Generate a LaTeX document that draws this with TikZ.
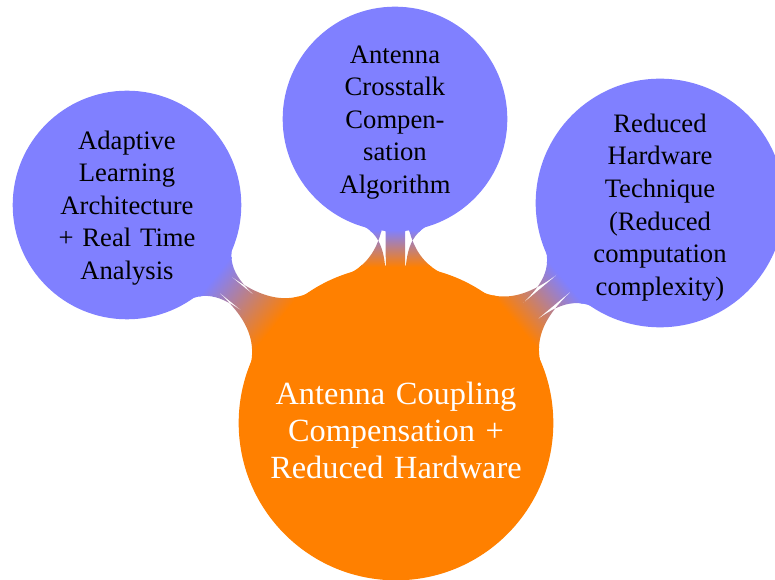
\documentclass[tikz,border=0pt]{standalone}
\usepackage{fontspec}
\setmainfont{Liberation Serif}
\usetikzlibrary{mindmap}
\newcommand{\rootlift}{\rule{0pt}{17.2pt}}
\newcommand{\leaflift}{\rule{0pt}{11pt}}
\begin{document}
\begin{tikzpicture}[x=0.4545pt,y=-0.4545pt, mindmap,
  rootnode/.style={concept, concept color=orange, circle, minimum size=141.8pt, text width=120pt, inner sep=0pt, align=center, text=white, font=\fontsize{14.7}{16.8}\selectfont},
  leaf/.style={concept, concept color=blue!50, circle, text width=64pt, inner sep=0pt, align=center, text=black, font=\fontsize{12.1}{14.8}\selectfont},
  bar/.style={circle connection bar switch color=from (orange) to (blue!50)}]
\useasboundingbox (0,0) rectangle (775,580);
\node[rootnode] (root) at (396,423) {\rootlift Antenna Coupling\\Compensation +\\Reduced Hardware};
\node[leaf, minimum size=102.7pt] (left) at (127,205) {\leaflift Adaptive\\Learning\\Architecture\\+ Real Time\\Analysis};
\node[leaf, minimum size=100.9pt] (top) at (395,119) {\leaflift Antenna\\Crosstalk\\Compen-\\sation\\Algorithm};
\node[leaf, minimum size=111.8pt] (right) at (660,203) {\rule{0pt}{12.4pt}Reduced\\Hardware\\Technique\\(Reduced\\computation\\complexity)};
\path (root) to[bar] (left);
\path (root) to[bar] (top);
\path (root) to[bar] (right);
\end{tikzpicture}
\end{document}
